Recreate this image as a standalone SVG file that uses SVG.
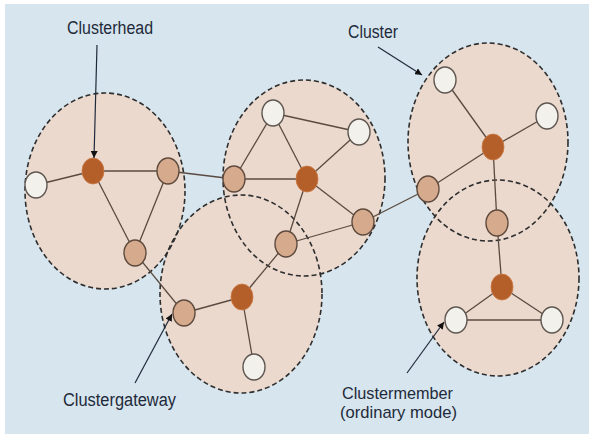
<svg xmlns="http://www.w3.org/2000/svg" width="589" height="434" viewBox="0 0 589 434">
<defs>
<style>
.cf{fill:#ebd9ce;stroke:none}
.cb{fill:none;stroke:#2e2e2e;stroke-width:1.6;stroke-dasharray:5 3}
.e{stroke:#5a4a40;stroke-width:1.3;fill:none}
.h{fill:#b45f2a;stroke:#c97a45;stroke-width:0.8}
.g{fill:#d6aa8d;stroke:#5e4a3c;stroke-width:1.4}
.w{fill:#f3f1eb;stroke:#5e5650;stroke-width:1.4}
.t{font-family:"Liberation Sans",Arial,sans-serif;font-size:18px;fill:#1f2a3a}
.t2{font-size:17px}
.a{stroke:#1f2a3a;stroke-width:1.2;fill:none}
</style>
<marker id="ah" viewBox="0 0 10 10" refX="10" refY="5" markerWidth="7" markerHeight="7" orient="auto" markerUnits="userSpaceOnUse">
<path d="M0,0 L10,5 L0,10 z" fill="#111"/>
</marker>
</defs>
<rect x="0" y="0" width="589" height="434" fill="#ffffff"/>
<rect x="5" y="4" width="584" height="430" fill="#d6e5ee"/>
<g id="clusters">
<ellipse id="cluster1" class="cf" cx="105" cy="191" rx="80" ry="98"/>
<ellipse id="cluster2" class="cf" cx="304" cy="178" rx="81" ry="98"/>
<ellipse id="cluster3" class="cf" cx="241" cy="294" rx="81" ry="99"/>
<ellipse id="cluster4" class="cf" cx="488" cy="142" rx="80" ry="99"/>
<ellipse id="cluster5" class="cf" cx="498" cy="278" rx="81" ry="98"/>
</g>
<g id="cluster-borders">
<ellipse class="cb" cx="105" cy="191" rx="80" ry="98"/>
<ellipse class="cb" cx="304" cy="178" rx="81" ry="98"/>
<ellipse class="cb" cx="241" cy="294" rx="81" ry="99"/>
<ellipse class="cb" cx="488" cy="142" rx="80" ry="99"/>
<ellipse class="cb" cx="498" cy="278" rx="81" ry="98"/>
</g>
<g id="connectors">
<line class="e" x1="36" y1="185" x2="93" y2="171"/>
<line class="e" x1="93" y1="171" x2="168" y2="171"/>
<line class="e" x1="93" y1="171" x2="135" y2="253"/>
<line class="e" x1="168" y1="171" x2="135" y2="253"/>
<line class="e" x1="168" y1="171" x2="234" y2="179"/>
<line class="e" x1="234" y1="179" x2="307" y2="179"/>
<line class="e" x1="234" y1="179" x2="273" y2="113"/>
<line class="e" x1="273" y1="113" x2="307" y2="179"/>
<line class="e" x1="273" y1="113" x2="359" y2="132"/>
<line class="e" x1="307" y1="179" x2="359" y2="132"/>
<line class="e" x1="307" y1="179" x2="363" y2="222"/>
<line class="e" x1="307" y1="179" x2="286" y2="244"/>
<line class="e" x1="286" y1="244" x2="363" y2="222"/>
<line class="e" x1="286" y1="244" x2="242" y2="297"/>
<line class="e" x1="135" y1="253" x2="184" y2="313"/>
<line class="e" x1="184" y1="313" x2="242" y2="297"/>
<line class="e" x1="242" y1="297" x2="254" y2="367"/>
<line class="e" x1="363" y1="222" x2="428" y2="189"/>
<line class="e" x1="428" y1="189" x2="493" y2="147"/>
<line class="e" x1="493" y1="147" x2="445" y2="80"/>
<line class="e" x1="493" y1="147" x2="547" y2="116"/>
<line class="e" x1="493" y1="147" x2="497" y2="223"/>
<line class="e" x1="497" y1="223" x2="502" y2="287"/>
<line class="e" x1="502" y1="287" x2="456" y2="320"/>
<line class="e" x1="502" y1="287" x2="552" y2="320"/>
<line class="e" x1="456" y1="320" x2="552" y2="320"/>
</g>
<g id="nodes">
<ellipse id="n1" class="w" cx="36" cy="185" rx="11" ry="13"/>
<ellipse id="n2" class="h" cx="93" cy="171" rx="11" ry="13"/>
<ellipse id="n3" class="g" cx="168" cy="171" rx="11" ry="13"/>
<ellipse id="n4" class="g" cx="135" cy="253" rx="11" ry="13"/>
<ellipse id="n5" class="g" cx="184" cy="313" rx="11" ry="13"/>
<ellipse id="n6" class="h" cx="242" cy="297" rx="11" ry="13"/>
<ellipse id="n7" class="w" cx="254" cy="367" rx="11" ry="13"/>
<ellipse id="n8" class="g" cx="234" cy="179" rx="11" ry="13"/>
<ellipse id="n9" class="w" cx="273" cy="113" rx="11" ry="13"/>
<ellipse id="n10" class="w" cx="359" cy="132" rx="11" ry="13"/>
<ellipse id="n11" class="h" cx="307" cy="179" rx="11" ry="13"/>
<ellipse id="n12" class="g" cx="286" cy="244" rx="11" ry="13"/>
<ellipse id="n13" class="g" cx="363" cy="222" rx="11" ry="13"/>
<ellipse id="n14" class="g" cx="428" cy="189" rx="11" ry="13"/>
<ellipse id="n15" class="w" cx="445" cy="80" rx="11" ry="13"/>
<ellipse id="n16" class="w" cx="547" cy="116" rx="11" ry="13"/>
<ellipse id="n17" class="h" cx="493" cy="147" rx="11" ry="13"/>
<ellipse id="n18" class="g" cx="497" cy="223" rx="11" ry="13"/>
<ellipse id="n19" class="h" cx="502" cy="287" rx="11" ry="13"/>
<ellipse id="n20" class="w" cx="456" cy="320" rx="11" ry="13"/>
<ellipse id="n21" class="w" cx="552" cy="320" rx="11" ry="13"/>
</g>
<g id="labels">
<g id="label-clusterhead">
<text class="t" x="67" y="34" textLength="86" lengthAdjust="spacingAndGlyphs">Clusterhead</text>
<line class="a" x1="97" y1="45" x2="94" y2="158" marker-end="url(#ah)"/>
</g>
<g id="label-cluster">
<text class="t" x="348" y="38" textLength="50" lengthAdjust="spacingAndGlyphs">Cluster</text>
<line class="a" x1="378" y1="47" x2="422" y2="75" marker-end="url(#ah)"/>
</g>
<g id="label-clustergateway">
<text class="t" x="63" y="406" textLength="113" lengthAdjust="spacingAndGlyphs">Clustergateway</text>
<line class="a" x1="135" y1="383" x2="172" y2="314" marker-end="url(#ah)"/>
</g>
<g id="label-clustermember">
<text class="t t2" x="342" y="398.5" textLength="111" lengthAdjust="spacingAndGlyphs">Clustermember</text>
<text class="t t2" x="340" y="418" textLength="117" lengthAdjust="spacingAndGlyphs">(ordinary mode)</text>
<line class="a" x1="407" y1="373" x2="444" y2="322" marker-end="url(#ah)"/>
</g>
</g>
</svg>
